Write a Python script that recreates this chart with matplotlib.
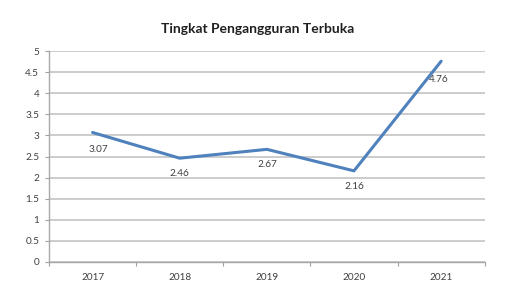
import matplotlib
matplotlib.use('Agg')
import matplotlib.pyplot as plt
import numpy as np

years = ['2017', '2018', '2019', '2020', '2021']
rates = [3.07, 2.46, 2.67, 2.16, 4.76]
label_offsets = [(4, -12), (0, -11), (0, -11), (0, -11), (-2, -13)]

plt.rcParams['font.family'] = ['Lato', 'DejaVu Sans']

fig = plt.figure(figsize=(5.12, 2.92), dpi=100)
ax = fig.add_axes([0.0957, 0.103, 0.851, 0.722])

x = np.arange(len(years))
ax.plot(x, rates, color='#4F81BD', lw=2.2, solid_capstyle='round', zorder=3)

for xi, v, (dx, dy) in zip(x, rates, label_offsets):
    ax.annotate(f'{v:.2f}', (xi, v), xytext=(dx, dy), textcoords='offset points',
                ha='center', va='center', fontsize=7.2, color='#404040')

ax.set_xlim(-0.5, len(years) - 0.5)
ax.set_ylim(0, 5)
ax.set_yticks(np.arange(0, 5.01, 0.5))
ax.set_yticklabels(['0', '0.5', '1', '1.5', '2', '2.5', '3', '3.5', '4', '4.5', '5'])
ax.set_xticks(x)
ax.set_xticklabels(years)
ax.set_xticks(np.arange(-0.5, len(years), 1), minor=True)
ax.tick_params(axis='x', which='major', length=0, pad=8, labelsize=7.2, colors='#404040')
ax.tick_params(axis='x', which='minor', length=3, width=0.8, color='#A0A0A0')
ax.tick_params(axis='y', length=3, width=0.8, color='#A0A0A0', pad=4,
               labelsize=7.2, labelcolor='#404040')

ax.grid(axis='y', color='#C8C8C8', lw=1.3)
ax.set_axisbelow(True)
for s in ['top', 'right']:
    ax.spines[s].set_visible(False)
for s in ['left', 'bottom']:
    ax.spines[s].set_color('#A8A8A8')
    ax.spines[s].set_linewidth(1.0)

fig.text(0.503, 0.90, 'Tingkat Pengangguran Terbuka', ha='center', va='center',
         fontsize=10, fontweight='bold', color='#202020')

fig.savefig('out.png', dpi=100)
